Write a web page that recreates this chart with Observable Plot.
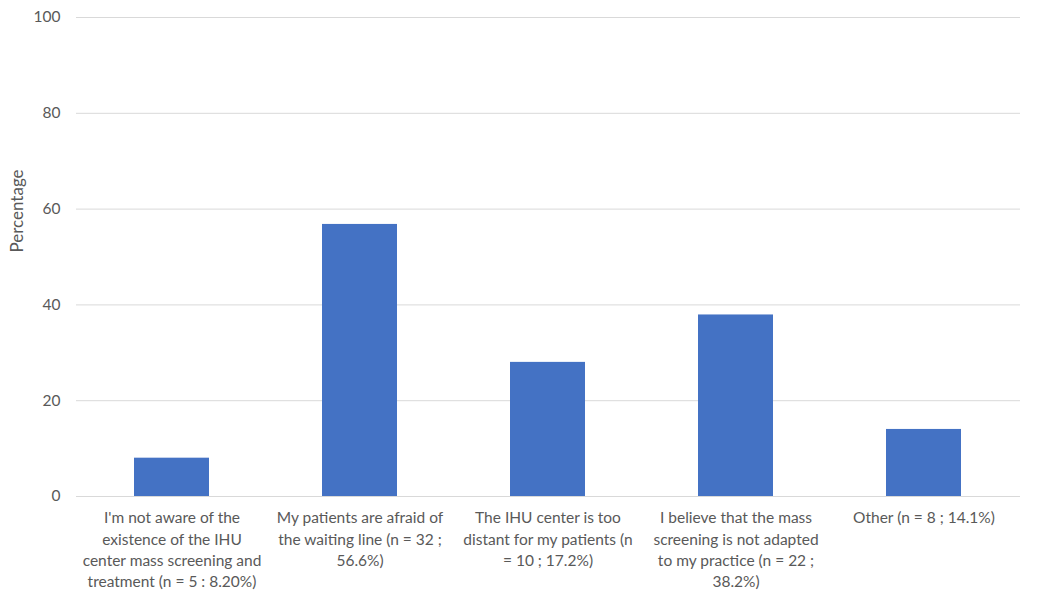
<!DOCTYPE html>
<html>
<head>
<meta charset="utf-8">
<script src="https://cdn.jsdelivr.net/npm/d3@7"></script>
<script src="https://cdn.jsdelivr.net/npm/@observablehq/plot@0.6"></script>
<style>
  html, body { margin: 0; padding: 0; background: #fff; }
  #chart svg { display: block; }
</style>
</head>
<body>
<div id="chart"></div>
<script>
const categories = [
  "I'm not aware of the\nexistence of the IHU\ncenter mass screening and\ntreatment (n = 5 : 8.20%)",
  "My patients are afraid of\nthe waiting line (n = 32 ;\n56.6%)",
  "The IHU center is too\ndistant for my patients (n\n= 10 ; 17.2%)",
  "I believe that the mass\nscreening is not adapted\nto my practice (n = 22 ;\n38.2%)",
  "Other (n = 8 ; 14.1%)"
];
const values = [8.0, 56.8, 28.0, 37.9, 14.0];
const yTicks = [0, 20, 40, 60, 80, 100];
const yLabel = "Percentage";

const data = categories.map((c, i) => ({category: c, value: values[i]}));

const chart = Plot.plot({
  width: 1053,
  height: 592,
  marginLeft: 76,
  marginRight: 33,
  marginTop: 17,
  marginBottom: 96,
  style: {fontFamily: "Lato, sans-serif", color: "#595959", background: "#fff"},
  x: {domain: categories, paddingInner: 0.6, paddingOuter: 0.3, label: null},
  y: {domain: [0, 100], label: null},
  marks: [
    Plot.ruleY(yTicks, {stroke: "#d9d9d9", strokeWidth: 1}),
    Plot.barY(data, {x: "category", y: "value", fill: "#4472C4"}),
    Plot.axisY({ticks: yTicks, tickSize: 0, tickPadding: 16, fontSize: 15.5, label: null, fill: "#595959"}),
    Plot.axisX({tickSize: 0, tickPadding: 12, fontSize: 15.5, lineHeight: 1.36, label: null, fill: "#595959", lineAnchor: "top"}),
    Plot.text([yLabel], {frameAnchor: "left", textAnchor: "middle", lineAnchor: "middle", rotate: -90, dx: -59, dy: -46, fontSize: 17, fill: "#595959"})
  ]
});
document.getElementById("chart").appendChild(chart);
</script>
</body>
</html>
